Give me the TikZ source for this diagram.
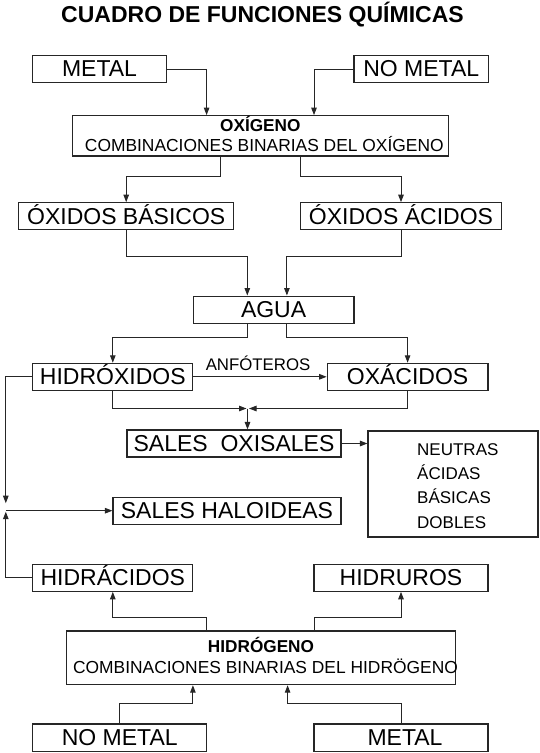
\documentclass[tikz,border=0pt]{standalone}
\usepackage{fontspec}
\setmainfont{Liberation Sans}
\usetikzlibrary{arrows.meta,calc}
\begin{document}
\begin{tikzpicture}[x=1pt,y=-1pt,
  box/.style={draw=black!85, line width=1.1pt, inner sep=0pt,
    font=\fontsize{23}{27}\selectfont, text height=16.4pt, text depth=0.8pt,
    minimum height=27pt},
  emptybox/.style={draw=black!85, line width=1.1pt, inner sep=0pt},
  small/.style={font=\fontsize{17.4}{20}\selectfont, inner sep=0pt, anchor=base},
  smallbold/.style={font=\bfseries\fontsize{17.2}{20}\selectfont, inner sep=0pt, anchor=base},
  listtxt/.style={font=\fontsize{17}{20}\selectfont, inner sep=0pt, anchor=base west},
  arr/.style={draw=black!85, line width=1pt, -{Triangle[length=7.5pt,width=5.5pt]}}
]
\useasboundingbox[fill=white] (0,0) rectangle (540,753);

% title
\node[font=\bfseries\fontsize{23}{27}\selectfont, inner sep=0pt, anchor=base] (title) at (262.5,22.6) {CUADRO DE FUNCIONES QUÍMICAS};

% boxes
\node[box, minimum width=133.6pt, minimum height=26.6pt] (metal1) at (99.5,69) {METAL};
\node[box, minimum width=134.4pt, minimum height=26.6pt] (nometal1) at (421.2,69) {NO METAL};

\node[emptybox, minimum width=376pt, minimum height=40.3pt] (oxi) at (260.3,135.8) {};
\node[smallbold] (oxititle) at ($(oxi.center)+(0,-4.6)$) {OXÍGENO};
\node[small] (oxisub) at ($(oxi.center)+(4,15.4)$) {COMBINACIONES BINARIAS DEL OXÍGENO};

\node[box, minimum width=214.6pt] (obas) at (126.2,216.2) {ÓXIDOS BÁSICOS};
\node[box, minimum width=200.7pt] (oac) at (401,216.2) {ÓXIDOS ÁCIDOS};

\node[box, minimum width=160.8pt, minimum height=27.3pt] (agua) at (273.6,309.7) {AGUA};

\node[box, minimum width=160.2pt] (hidrox) at (112.8,376.8) {HIDRÓXIDOS};
\node[box, minimum width=160.8pt] (oxac) at (407.6,376.8) {OXÁCIDOS};

\node[box, minimum width=214pt] (soxi) at (234,443.5) {SALES~~OXISALES};

\node[emptybox, minimum width=170pt, minimum height=106pt] (tipos) at (453,484) {};
\node[listtxt] (t1) at (417,455.1) {NEUTRAS};
\node[listtxt] (t2) at (417,479.4) {ÁCIDAS};
\node[listtxt] (t3) at (417,503.7) {BÁSICAS};
\node[listtxt] (t4) at (417,528) {DOBLES};

\node[box, minimum width=228pt, minimum height=26.7pt] (shal) at (227,510.7) {SALES HALOIDEAS};

\node[box, minimum width=160.2pt] (hidrac) at (112.8,577.8) {HIDRÁCIDOS};
\node[box, minimum width=174pt] (hidrur) at (401,577.8) {HIDRUROS};

\node[emptybox, minimum width=389.2pt, minimum height=53.7pt] (hidro) at (260.7,657.8) {};
\node[smallbold] (hidrotitle) at ($(hidro.center)+(0.3,-4.9)$) {HIDRÓGENO};
\node[small] (hidrosub) at ($(hidro.center)+(4.8,15.7)$) {COMBINACIONES BINARIAS DEL HIDRÖGENO};

\node[box, minimum width=174pt, minimum height=27.7pt] (nometal2) at (119.7,737.8) {NO METAL};
\node[box, minimum width=174pt, minimum height=27.7pt] (metal2) at (401,737.8) {\hspace*{8pt}METAL};

% junction coordinates
\coordinate (jo) at (247.5,408.5);
\coordinate (jh) at (5.8,510.7);

% connectors
\draw[arr] (metal1.east) -| ($(oxi.north)+(-53.7,0)$);
\draw[arr] (nometal1.west) -| ($(oxi.north)+(53.7,0)$);

\draw[arr] ($(oxi.south)+(-40,0)$) -- ($(oxi.south)+(-40,19.7)$) -| (obas.north);
\draw[arr] ($(oxi.south)+(40.4,0)$) -- ($(oxi.south)+(40.4,19.7)$) -| (oac.north);

\draw[arr] (obas.south) -- ($(obas.south)+(0,26.3)$) -| ($(agua.north)+(-26.3,0)$);
\draw[arr] (oac.south) -- ($(oac.south)+(0,26.3)$) -| ($(agua.north)+(13.3,0)$);

\draw[arr] ($(agua.south)+(-26.3,0)$) -- ($(agua.south)+(-26.3,13.4)$) -| (hidrox.north);
\draw[arr] ($(agua.south)+(13.3,0)$) -- ($(agua.south)+(13.3,13.4)$) -| (oxac.north);

\draw[arr] (hidrox.east) -- node[midway, anchor=base, yshift=6pt, xshift=-2pt, inner sep=0pt, font=\fontsize{16.8}{20}\selectfont] (anf) {ANFÓTEROS} (oxac.west);

\draw[arr] (hidrox.south) |- ($(jo)+(-1,0)$);
\draw[arr] (oxac.south) |- ($(jo)+(1.5,0)$);
\draw[arr] (jo) -- (jo |- soxi.north);

\draw[arr] (soxi.east) -- (soxi.east -| tipos.west);

\draw[arr] (hidrox.west) -| ($(jh)+(0,-7.5)$);
\draw[arr] (hidrac.west) -| ($(jh)+(0,1)$);
\draw[arr] (jh) -- (shal.west);

\draw[arr] ($(hidro.north)+(-54.1,0)$) -- ($(hidro.north)+(-54.1,-13.3)$) -| (hidrac.south);
\draw[arr] ($(hidro.north)+(53.3,0)$) -- ($(hidro.north)+(53.3,-13.3)$) -| (hidrur.south);

\draw[arr] (nometal2.north) -- ($(nometal2.north)+(0,-20)$) -| ($(hidro.south)+(-67.8,0)$);
\draw[arr] (metal2.north) -- ($(metal2.north)+(0,-20)$) -| ($(hidro.south)+(26.9,0)$);
\end{tikzpicture}
\end{document}
